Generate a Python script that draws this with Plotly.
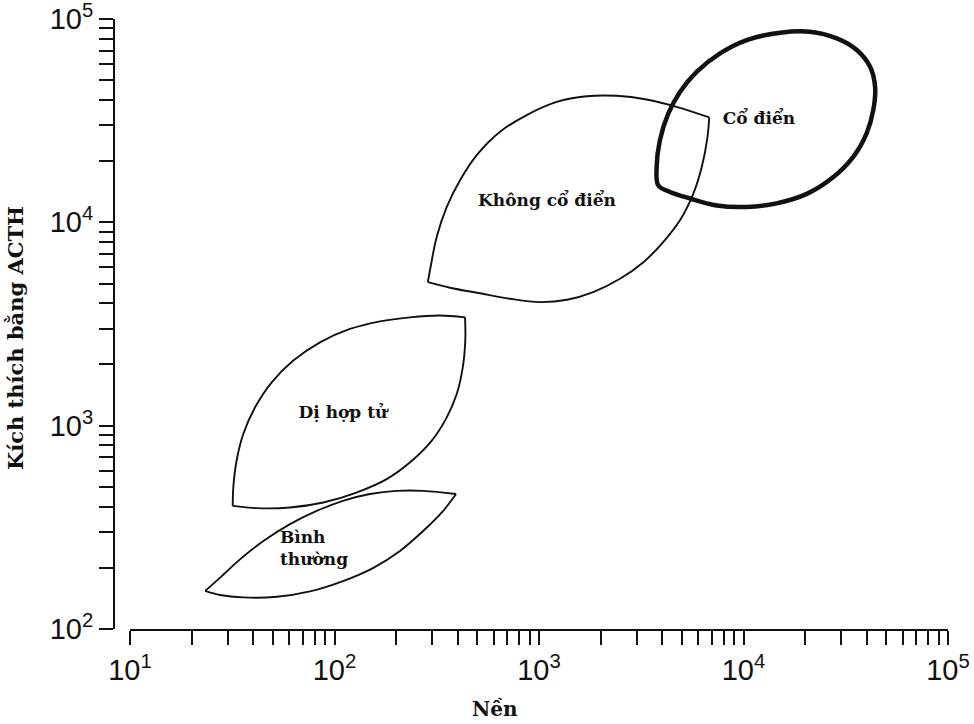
import plotly.graph_objects as go

# ---- Region outlines (Nền, Kích thích bằng ACTH) ----
# Không cổ điển (non-classic)
nc_upper_x = [286, 295, 316, 354, 411, 496, 645, 871, 1221, 1710, 2400, 3360, 4710, 6800]
nc_upper_y = [5080, 6030, 8470, 11900, 16100, 21400, 27900, 33700, 39100, 41700, 41900, 40200, 37000, 32800]
nc_lower_x = [6800, 6650, 6250, 5680, 4890, 4050, 3240, 2490, 1840, 1370, 1011, 721, 514, 367, 286]
nc_lower_y = [32800, 25800, 18700, 13800, 10230, 8000, 6370, 5280, 4540, 4160, 4050, 4210, 4480, 4770, 5080]

# Cổ điển (classic)
cl_x = [3830, 3760, 3900, 4290, 4890, 5900, 7680, 10370, 15100, 21100, 28600, 35800, 41600,
        44000, 43100, 40000, 34400, 27500, 20400, 14500, 10370, 7400, 5480, 4370, 3830]
cl_y = [15200, 18700, 25300, 34300, 43800, 55000, 67800, 78800, 85600, 86600, 80300, 70400, 58200,
        46400, 35600, 27400, 21000, 16700, 13800, 12400, 11900, 12100, 13100, 14100, 15200]

# Dị hợp tử (heterozygous)
het_upper_x = [31.8, 32.0, 33.2, 35.8, 40.9, 49.3, 62.9, 84.9, 119, 167, 234, 328, 435]
het_upper_y = [403, 497, 672, 910, 1231, 1634, 2090, 2570, 2990, 3260, 3410, 3480, 3410]
het_lower_x = [435, 436, 424, 396, 354, 299, 239, 180, 128, 88.1, 60.6, 41.7, 31.8]
het_lower_y = [3410, 2620, 1940, 1430, 1099, 844, 672, 546, 469, 419, 396, 393, 403]

# Bình thường (normal)
nor_upper_x = [23.3, 27.6, 34.5, 44.9, 60.6, 81.8, 110, 149, 201, 272, 393]
nor_upper_y = [154, 179, 220, 271, 328, 381, 427, 461, 478, 478, 461]
nor_lower_x = [393, 340, 272, 209, 155, 110, 75.9, 52.2, 35.8, 27.6, 23.3]
nor_lower_y = [461, 381, 304, 242, 200, 172, 153, 144, 143, 147, 154]

# Region labels
label_texts = ["Không cổ điển", "Cổ điển", "Dị hợp tử", "Bình<br>thường"]
label_x = [1094, 11900, 110, 54.1]
label_y = [12690, 31800, 1146, 245]
label_pos = ["middle center", "middle center", "middle center", "middle right"]

# Axis ticks
x_major = [10, 100, 1000, 10000, 100000]
x_major_text = ["10<sup>1</sup>", "10<sup>2</sup>", "10<sup>3</sup>", "10<sup>4</sup>", "10<sup>5</sup>"]
y_major = [100, 1000, 10000, 100000]
y_major_text = ["10<sup>2</sup>", "10<sup>3</sup>", "10<sup>4</sup>", "10<sup>5</sup>"]
minor_mult = [2, 3, 4, 5, 6, 7, 8, 9]


def ticks(majors, texts):
    vals, txt = [], []
    for i, m in enumerate(majors):
        vals.append(m)
        txt.append(texts[i])
        if i < len(majors) - 1:
            for k in minor_mult:
                vals.append(m * k)
                txt.append("")
    return vals, txt


xt_vals, xt_text = ticks(x_major, x_major_text)
yt_vals, yt_text = ticks(y_major, y_major_text)

INK = "#111111"
fig = go.Figure()

thin = dict(color=INK, width=1.9, shape="spline")
for xs, ys in [(nc_upper_x, nc_upper_y), (nc_lower_x, nc_lower_y),
               (het_upper_x, het_upper_y), (het_lower_x, het_lower_y),
               (nor_upper_x, nor_upper_y), (nor_lower_x, nor_lower_y)]:
    fig.add_trace(go.Scatter(x=xs, y=ys, mode="lines", line=thin, hoverinfo="skip"))

fig.add_trace(go.Scatter(x=cl_x, y=cl_y, mode="lines",
                         line=dict(color=INK, width=4.5, shape="spline"), hoverinfo="skip"))

fig.add_trace(go.Scatter(x=label_x, y=label_y, mode="text",
                         text=["<b>" + t + "</b>" for t in label_texts],
                         textposition=label_pos,
                         textfont=dict(family="DejaVu Serif", size=17, color=INK),
                         hoverinfo="skip"))

W, H = 974, 724
ml, mr, mt, mb = 114, 26, 19, 95
pw = W - ml - mr

axis_common = dict(showline=True, linecolor=INK, linewidth=2, ticks="outside",
                   ticklen=14, tickwidth=2, tickcolor=INK, showgrid=False, zeroline=False,
                   automargin=False, ticklabeloverflow="allow",
                   tickfont=dict(family="Liberation Sans", size=29, color=INK))

fig.update_layout(
    width=W, height=H,
    margin=dict(l=ml, r=mr, t=mt, b=mb),
    plot_bgcolor="white", paper_bgcolor="white",
    showlegend=False,
    xaxis=dict(type="log", range=[1, 5], domain=[16 / pw, 1],
               tickmode="array", tickvals=xt_vals, ticktext=xt_text, **axis_common),
    yaxis=dict(type="log", range=[2, 5], anchor="free", position=0,
               tickmode="array", tickvals=yt_vals, ticktext=yt_text, **axis_common),
    annotations=[
        dict(text="<b>Nền</b>", xref="paper", yref="paper",
             x=(495 - ml) / pw, y=(629 - 709) / (H - mt - mb),
             xanchor="center", yanchor="middle",
             showarrow=False, font=dict(family="DejaVu Serif", size=20, color=INK)),
        dict(text="<b>Kích thích bằng ACTH</b>", xref="paper", yref="paper",
             x=(16 - ml) / pw, y=(629 - 338) / (H - mt - mb), textangle=-90,
             xanchor="center", yanchor="middle",
             showarrow=False, font=dict(family="DejaVu Serif", size=21, color=INK)),
    ],
)

fig.write_html("out.html", config={"displayModeBar": False},
               post_script="document.body.style.margin='0';document.body.style.overflow='hidden';")
